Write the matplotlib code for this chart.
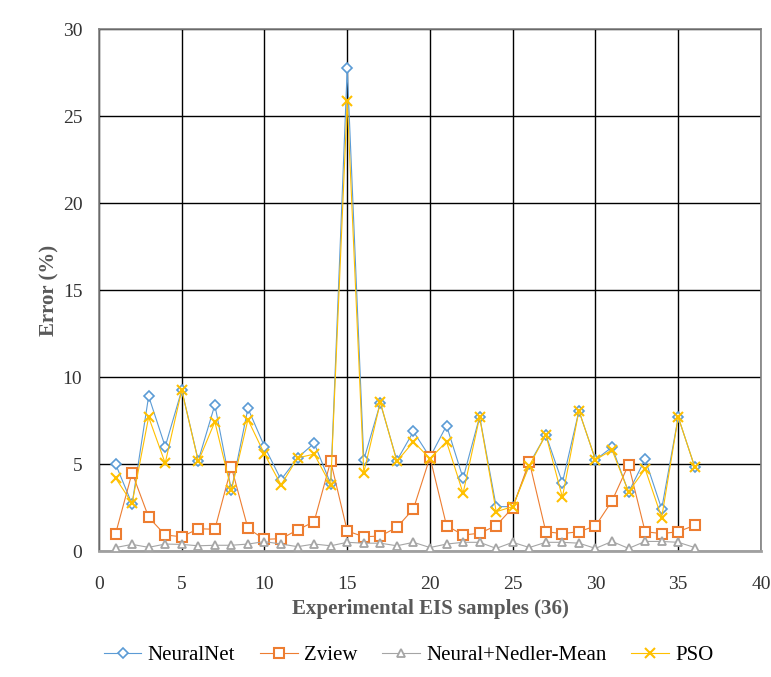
import numpy as np
import matplotlib
matplotlib.use('Agg')
import matplotlib.pyplot as plt

plt.rcParams['font.family'] = ['Liberation Serif', 'DejaVu Serif']

samples = list(range(1, 37))

neuralnet = [5.0, 2.7, 8.9, 6.0, 9.25, 5.2, 8.4, 3.5, 8.2, 6.0,
             4.1, 5.35, 6.2, 3.86, 27.75, 5.24, 8.5, 5.2, 6.87, 5.39,
             7.21, 4.18, 7.73, 2.55, 2.55, 5.0, 6.68, 3.93, 8.06, 5.24,
             5.97, 3.38, 5.28, 2.42, 7.7, 4.82]

zview = [0.98, 4.5, 1.94, 0.92, 0.82, 1.28, 1.25, 4.82, 1.3, 0.67,
         0.71, 1.21, 1.69, 5.16, 1.15, 0.82, 0.86, 1.36, 2.42, 5.39,
         1.46, 0.92, 1.02, 1.46, 2.49, 5.14, 1.11, 1.0, 1.11, 1.44,
         2.88, 4.97, 1.11, 1.0, 1.11, 1.48]

nedler_mean = [0.2, 0.38, 0.21, 0.4, 0.38, 0.3, 0.33, 0.33, 0.4, 0.54,
               0.4, 0.25, 0.4, 0.3, 0.5, 0.45, 0.45, 0.3, 0.5, 0.2,
               0.4, 0.5, 0.5, 0.15, 0.5, 0.2, 0.5, 0.5, 0.45, 0.15,
               0.55, 0.15, 0.55, 0.55, 0.5, 0.2]

pso = [4.2, 2.75, 7.7, 5.05, 9.25, 5.15, 7.43, 3.5, 7.55, 5.57,
       3.8, 5.35, 5.57, 3.8, 25.85, 4.5, 8.55, 5.15, 6.28, 5.31,
       6.28, 3.32, 7.7, 2.26, 2.55, 4.9, 6.68, 3.09, 8.06, 5.24,
       5.81, 3.4, 4.72, 1.92, 7.7, 4.82]

fig = plt.figure(figsize=(7.71, 6.77), dpi=100)
ax = fig.add_axes([0.1284, 0.1861, 0.8586, 0.7710])

lw = 0.8
ax.plot(samples, neuralnet, color='#5B9BD5', lw=lw, marker='D', ms=5,
        mfc='white', mec='#5B9BD5', mew=1.2, label='NeuralNet', zorder=3)
ax.plot(samples, zview, color='#ED7D31', lw=lw, marker='s', ms=7,
        mfc='white', mec='#ED7D31', mew=1.5, label='Zview', zorder=3)
ax.plot(samples, nedler_mean, color='#A5A5A5', lw=lw, marker='^', ms=6,
        mfc='white', mec='#A5A5A5', mew=1.3, label='Neural+Nedler-Mean', zorder=3)
ax.plot(samples, pso, color='#FFC000', lw=lw, marker='x', ms=7,
        mew=1.5, label='PSO', zorder=4)

ax.set_xlim(0, 40)
ax.set_ylim(0, 30)
ax.set_xticks(range(0, 41, 5))
ax.set_yticks(range(0, 31, 5))
ax.grid(True, color='black', lw=1.0, zorder=0)
ax.set_axisbelow(True)
for s in ax.spines.values():
    s.set_color('#808080')
    s.set_linewidth(1.2)
ax.spines['bottom'].set_linewidth(2.0)
ax.spines['bottom'].set_color('#A0A0A0')
ax.tick_params(length=0, labelsize=14, colors='#333333', pad=12)
ax.tick_params(axis='x', pad=18)

ax.set_xlabel('Experimental EIS samples (36)', fontsize=15, fontweight='bold',
              color='#595959', labelpad=4)
ax.set_ylabel('Error (%)', fontsize=15, fontweight='bold', color='#595959',
              labelpad=2)

fig.legend(loc='lower center', bbox_to_anchor=(0.53, -0.01), ncol=4,
           frameon=False, fontsize=15, handlelength=1.8, columnspacing=1.2,
           handletextpad=0.3)

fig.savefig('out.png', dpi=100)
